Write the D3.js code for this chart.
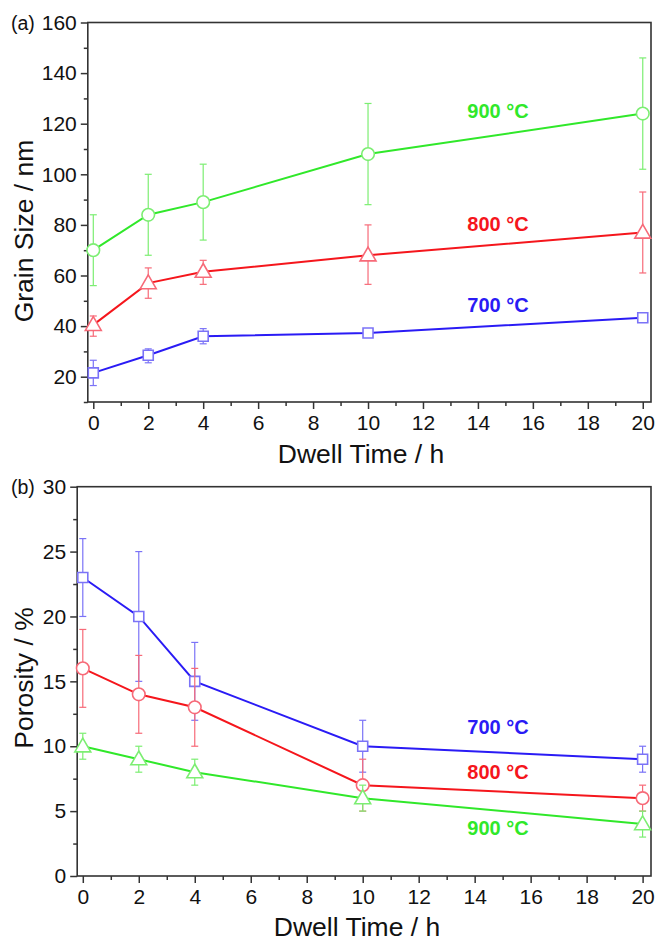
<!DOCTYPE html>
<html><head><meta charset="utf-8">
<script src="https://cdn.jsdelivr.net/npm/d3@7"></script>
<style>body{margin:0;background:#fff}svg{display:block}text{font-family:"Liberation Sans",Arial,sans-serif}</style>
</head><body>
<svg id="c" width="656" height="941"></svg>
<script>
// ---- data ----
const dwell = [0, 2, 4, 10, 20];
const xMajor = [0, 2, 4, 6, 8, 10, 12, 14, 16, 18, 20];
const xMinor = [1, 3, 5, 7, 9, 11, 13, 15, 17, 19];
const temps = ["700 °C", "800 °C", "900 °C"];

// (a) grain size
const grain700 = [21.5, 28.5, 36, 37.3, 43.3];
const grain700Lo = [16.5, 25.5, 33, 36, 42];
const grain700Hi = [26.5, 31, 39, 38.5, 44.5];
const grain800 = [40.5, 57, 61.5, 68, 77];
const grain800Lo = [36, 51, 56.5, 56.5, 61];
const grain800Hi = [44, 63, 66, 80, 93];
const grain900 = [70, 84, 89, 108, 124];
const grain900Lo = [56, 68, 74, 88, 102];
const grain900Hi = [84, 100, 104, 128, 146];
const grainTicks = [20, 40, 60, 80, 100, 120, 140, 160];
const grainMinor = [10, 30, 50, 70, 90, 110, 130, 150];

// (b) porosity
const por700 = [23, 20, 15, 10, 9];
const por700Lo = [20, 15, 12, 8, 8];
const por700Hi = [26, 25, 18, 12, 10];
const por800 = [16, 14, 13, 7, 6];
const por800Lo = [13, 11, 10, 5, 5];
const por800Hi = [19, 17, 16, 9, 7];
const por900 = [10, 9, 8, 6, 4];
const por900Lo = [9, 8, 7, 5, 3];
const por900Hi = [11, 10, 9, 7, 5];
const porTicks = [0, 5, 10, 15, 20, 25, 30];
const porMinor = [2.5, 7.5, 12.5, 17.5, 22.5, 27.5];

const colors = {"700 °C": "#2a1bf5", "800 °C": "#f5161c", "900 °C": "#30e82a"};
const errColors = {"700 °C": "#7b73f7", "800 °C": "#f76a78", "900 °C": "#7cee72"};

const svg = d3.select("#c");

function panel(cfg) {
  const x = d3.scaleLinear().domain([-0.2, 20.3]).range([cfg.left, 651]);
  const y = d3.scaleLinear().domain(cfg.yDomain).range([cfg.bottom, cfg.top]);
  const g = svg.append("g");

  // frame
  g.append("rect").attr("x", cfg.left).attr("y", cfg.top)
    .attr("width", 651 - cfg.left).attr("height", cfg.bottom - cfg.top)
    .attr("fill", "none").attr("stroke", "#333").attr("stroke-width", 1.6);

  // x axis
  const xa = g.append("g").attr("transform", `translate(0,${cfg.bottom})`)
    .call(d3.axisBottom(x).tickValues(xMajor).tickSize(7).tickSizeOuter(0).tickPadding(6).tickFormat(d3.format("d")));
  xa.select(".domain").remove();
  xa.selectAll("line").attr("stroke", "#333").attr("stroke-width", 1.5);
  xa.selectAll("text").attr("font-size", 21).attr("fill", "#111").attr("font-family", "Liberation Sans, Arial, sans-serif");
  const xm = g.append("g").attr("transform", `translate(0,${cfg.bottom})`)
    .call(d3.axisBottom(x).tickValues(xMinor).tickSize(4).tickSizeOuter(0).tickFormat(""));
  xm.select(".domain").remove();
  xm.selectAll("line").attr("stroke", "#333").attr("stroke-width", 1.5);

  // y axis
  const ya = g.append("g").attr("transform", `translate(${cfg.left},0)`)
    .call(d3.axisLeft(y).tickValues(cfg.yTicks).tickSize(7).tickSizeOuter(0).tickPadding(4).tickFormat(d3.format("d")));
  ya.select(".domain").remove();
  ya.selectAll("line").attr("stroke", "#333").attr("stroke-width", 1.5);
  ya.selectAll("text").attr("font-size", 21).attr("fill", "#111").attr("font-family", "Liberation Sans, Arial, sans-serif");
  const ym = g.append("g").attr("transform", `translate(${cfg.left},0)`)
    .call(d3.axisLeft(y).tickValues(cfg.yMinor).tickSize(4).tickSizeOuter(0).tickFormat(""));
  ym.select(".domain").remove();
  ym.selectAll("line").attr("stroke", "#333").attr("stroke-width", 1.5);

  // titles
  g.append("text").attr("x", cfg.xTitleX).attr("y", cfg.bottom + cfg.xTitleDy)
    .attr("text-anchor", "middle").attr("font-size", 26.5).attr("fill", "#111").text("Dwell Time / h");
  g.append("text").attr("transform", `translate(33,${cfg.yTitleY}) rotate(-90)`)
    .attr("text-anchor", "middle").attr("font-size", 26.5).attr("fill", "#111").text(cfg.yTitle);
  g.append("text").attr("x", 11).attr("y", cfg.top + 7).attr("font-size", 19.5).attr("fill", "#111").text(cfg.tag);

  // series
  cfg.series.forEach(s => {
    const pts = dwell.map((d, i) => ({x: d, v: s.v[i], lo: s.lo[i], hi: s.hi[i]}));
    const ec = errColors[s.name], c = colors[s.name];
    const eb = g.append("g").attr("stroke", ec).attr("stroke-width", 1.2).attr("fill", "none");
    pts.forEach(p => {
      eb.append("line").attr("x1", x(p.x)).attr("x2", x(p.x)).attr("y1", y(p.lo)).attr("y2", y(p.hi));
      [p.lo, p.hi].forEach(e => eb.append("line").attr("x1", x(p.x) - 3.5).attr("x2", x(p.x) + 3.5).attr("y1", y(e)).attr("y2", y(e)));
    });
    g.append("path").datum(pts).attr("fill", "none").attr("stroke", c).attr("stroke-width", 2)
      .attr("d", d3.line().x(p => x(p.x)).y(p => y(p.v)));
    const sym = d3.symbol().type(s.shape).size(s.size);
    g.selectAll(null).data(pts).enter().append("path")
      .attr("transform", p => `translate(${x(p.x)},${y(p.v) + (s.shape === d3.symbolTriangle ? 1 : 0)})`)
      .attr("d", sym).attr("fill", "#fff").attr("stroke", ec).attr("stroke-width", 1.6);
  });

  cfg.labels.forEach(l => {
    g.append("text").attr("x", 498).attr("y", y(l.v)).attr("dy", "0.35em")
      .attr("text-anchor", "middle").attr("font-size", 20).attr("font-weight", "bold")
      .attr("fill", colors[l.name]).text(l.name);
  });
}

panel({
  left: 87.8, top: 22.5, bottom: 402, yDomain: [10, 160], yTicks: grainTicks, yMinor: grainMinor,
  yTitle: "Grain Size / nm", tag: "(a)", yTitleY: 231, xTitleX: 361, xTitleDy: 61,
  series: [
    {name: temps[0], v: grain700, lo: grain700Lo, hi: grain700Hi, shape: d3.symbolSquare, size: 100},
    {name: temps[1], v: grain800, lo: grain800Lo, hi: grain800Hi, shape: d3.symbolTriangle, size: 110},
    {name: temps[2], v: grain900, lo: grain900Lo, hi: grain900Hi, shape: d3.symbolCircle, size: 125}
  ],
  labels: [{name: temps[2], v: 125}, {name: temps[1], v: 80.5}, {name: temps[0], v: 48.5}]
});

panel({
  left: 77.2, top: 486.7, bottom: 876, yDomain: [0, 30], yTicks: porTicks, yMinor: porMinor,
  yTitle: "Porosity / %", tag: "(b)", yTitleY: 678, xTitleX: 357, xTitleDy: 60,
  series: [
    {name: temps[0], v: por700, lo: por700Lo, hi: por700Hi, shape: d3.symbolSquare, size: 100},
    {name: temps[1], v: por800, lo: por800Lo, hi: por800Hi, shape: d3.symbolCircle, size: 125},
    {name: temps[2], v: por900, lo: por900Lo, hi: por900Hi, shape: d3.symbolTriangle, size: 110}
  ],
  labels: [{name: temps[0], v: 11.5}, {name: temps[1], v: 8.0}, {name: temps[2], v: 3.7}]
});
</script>
</body></html>
